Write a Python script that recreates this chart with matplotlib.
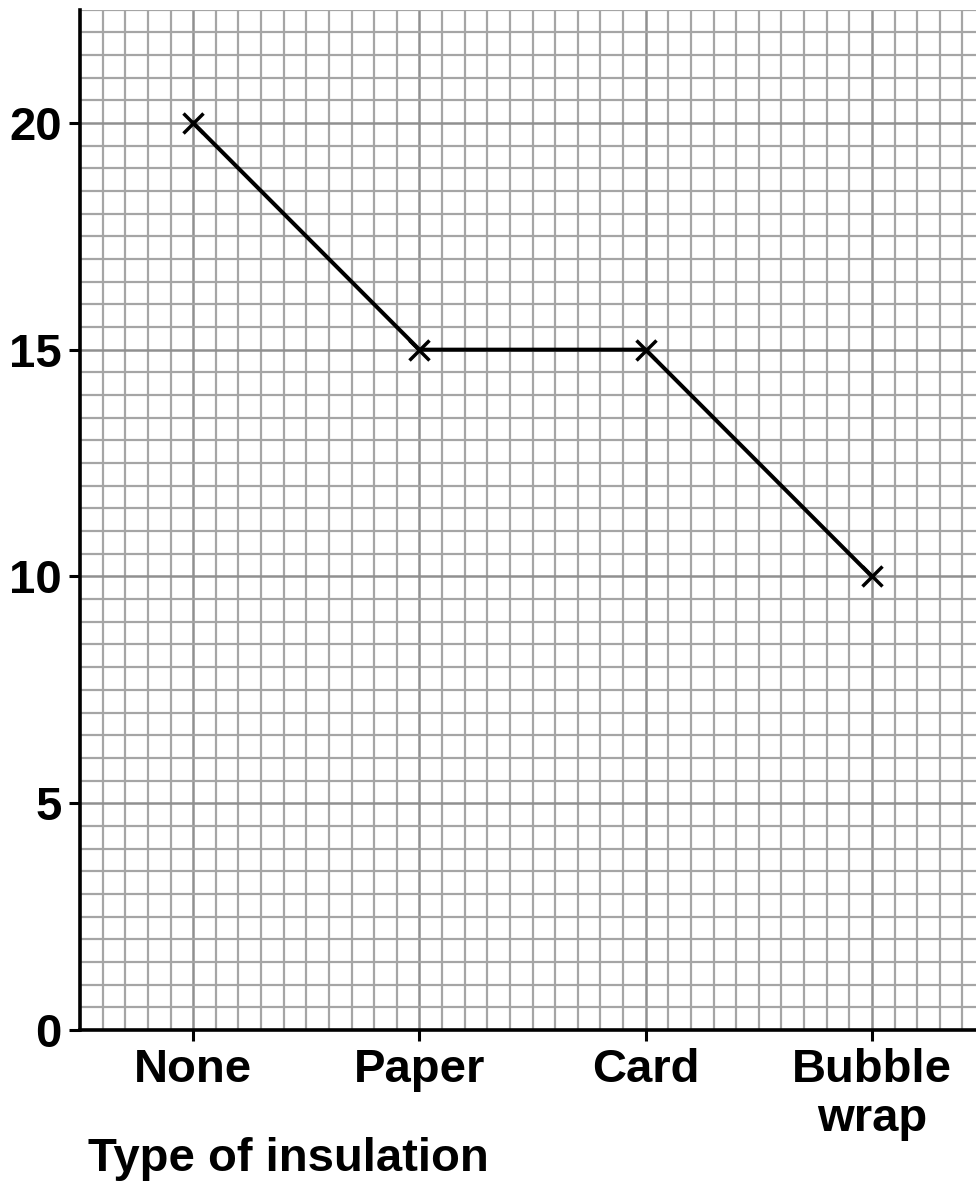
import numpy as np
import matplotlib
matplotlib.use('Agg')
from matplotlib import pyplot as plt

# data
categories = ['None', 'Paper', 'Card', 'Bubble\nwrap']
values = [20, 15, 15, 10]
y_ticks = [0, 5, 10, 15, 20]

plt.rcParams['font.family'] = ['Liberation Sans', 'DejaVu Sans']
plt.rcParams['font.weight'] = 'bold'
FS = 34

fig = plt.figure(figsize=(9.76, 11.82), dpi=100)
ax = fig.add_axes([80 / 976, 1 - 1030 / 1182, 1 - 80 / 976, (1030 - 9.5) / 1182])

x = np.arange(len(categories))

# graph paper grid
ax.set_xlim(-0.49, 3.46)
ax.set_ylim(0, 22.5)
ax.set_xticks(np.arange(-0.5, 3.5, 0.1), minor=True)
ax.set_yticks(np.arange(0, 22.6, 0.5), minor=True)
ax.grid(which='minor', color='#a5a5a5', lw=1.6, zorder=0)
ax.grid(which='major', color='#909090', lw=1.8, zorder=0)
ax.tick_params(which='minor', length=0)
ax.set_axisbelow(True)

ax.plot(x, values, color='black', lw=2.9, marker='x', markersize=15,
        markeredgewidth=2.5, zorder=3)

ax.set_xticks(x)
ax.set_xticklabels(categories, fontsize=FS, fontweight='bold', linespacing=1.15)
ax.set_yticks(y_ticks)
ax.set_yticklabels([str(v) for v in y_ticks], fontsize=FS, fontweight='bold')
ax.tick_params(which='major', length=8, width=2.2, color='black', pad=5)

for s in ['top', 'right']:
    ax.spines[s].set_visible(False)
for s in ['left', 'bottom']:
    ax.spines[s].set_linewidth(2.6)
    ax.spines[s].set_zorder(4)

fig.text(88 / 976, 1 - 1171 / 1182, 'Type of insulation', fontsize=FS,
         fontweight='bold', ha='left', va='baseline')

fig.savefig('out.png', dpi=100)
